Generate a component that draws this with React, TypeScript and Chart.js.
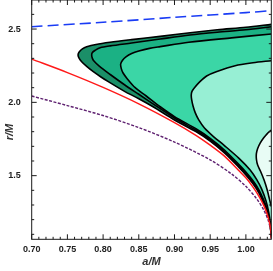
import React, { useEffect, useRef } from 'react';
import { Chart, registerables } from 'chart.js';

Chart.register(...registerables);

// axis ranges and tick labels
const X_MIN = 0.70;
const X_MAX = 1.0356;
const Y_MIN = 1.066;
const Y_MAX = 2.698;
const xTicks = [0.70, 0.75, 0.80, 0.85, 0.90, 0.95, 1.00];
const yTicks = [1.5, 2.0, 2.5];

// blue dashed curve
const blueA = [0.70, 0.80, 0.90, 1.00, 1.0356];
const blueR = [2.516, 2.546, 2.58, 2.612, 2.625];

// red curve
const redA = [0.70, 0.75, 0.80, 0.85, 0.90, 0.93, 0.95, 0.97, 0.99, 1.00, 1.01, 1.018, 1.025, 1.03, 1.0335, 1.0352, 1.0356];
const redR = [2.295, 2.203, 2.102, 1.990, 1.862, 1.775, 1.708, 1.633, 1.535, 1.485, 1.422, 1.362, 1.297, 1.235, 1.171, 1.114, 1.07];

// purple dashed curve
const purpleA = [0.70, 0.75, 0.80, 0.85, 0.90, 0.95, 0.98, 1.00, 1.015, 1.025, 1.031, 1.0345, 1.0356];
const purpleR = [2.043, 1.978, 1.910, 1.828, 1.729, 1.608, 1.511, 1.427, 1.343, 1.266, 1.199, 1.133, 1.07];

// nested regions (outer -> inner), boundary traced from upper right edge, round the tip, to lower right edge
const region1A = [1.0356, 1.00, 0.96, 0.9219, 0.88, 0.84, 0.8097, 0.79, 0.777, 0.771, 0.7665, 0.7649, 0.7665, 0.770, 0.777, 0.7863, 0.797, 0.8073, 0.83, 0.85, 0.87, 0.90, 0.93, 0.95, 0.97, 0.99, 1.00, 1.01, 1.018, 1.025, 1.03, 1.0335, 1.0356];
const region1R = [2.532, 2.512, 2.495, 2.475, 2.45, 2.428, 2.41, 2.395, 2.379, 2.365, 2.343, 2.323, 2.30, 2.277, 2.245, 2.209, 2.173, 2.141, 2.075, 2.025, 1.97, 1.88, 1.80, 1.735, 1.655, 1.558, 1.505, 1.445, 1.385, 1.31, 1.25, 1.185, 1.078];

const region2A = [1.0356, 1.00, 0.96, 0.9217, 0.88, 0.84, 0.81, 0.7958, 0.789, 0.785, 0.784, 0.785, 0.7875, 0.795, 0.81, 0.83, 0.85, 0.87, 0.90, 0.93, 0.95, 0.97, 0.99, 1.00, 1.01, 1.018, 1.025, 1.03, 1.0335, 1.0356];
const region2R = [2.516, 2.495, 2.478, 2.459, 2.432, 2.405, 2.385, 2.372, 2.355, 2.34, 2.323, 2.30, 2.28, 2.245, 2.19, 2.12, 2.055, 1.99, 1.893, 1.81, 1.745, 1.665, 1.567, 1.515, 1.455, 1.395, 1.322, 1.26, 1.195, 1.085];

const region3A = [1.0356, 0.98, 0.92, 0.88, 0.865, 0.85, 0.84, 0.832, 0.827, 0.8246, 0.8255, 0.828, 0.834, 0.845, 0.86, 0.88, 0.90, 0.93, 0.95, 0.97, 0.99, 1.00, 1.01, 1.018, 1.025, 1.03, 1.0335, 1.0356];
const region3R = [2.466, 2.44, 2.41, 2.38, 2.368, 2.35, 2.333, 2.31, 2.285, 2.26, 2.23, 2.20, 2.16, 2.10, 2.045, 1.97, 1.903, 1.82, 1.755, 1.675, 1.577, 1.525, 1.465, 1.405, 1.333, 1.27, 1.205, 1.09];

const region4A = [1.0356, 1.01, 0.985, 0.9585, 0.945, 0.9353, 0.928, 0.9245, 0.9235, 0.924, 0.926, 0.929, 0.934, 0.942, 0.955, 0.97, 0.99, 1.006, 1.015, 1.022, 1.028, 1.032, 1.0345, 1.0356];
const region4R = [2.284, 2.27, 2.25, 2.209, 2.18, 2.14, 2.10, 2.075, 2.05, 2.02, 1.975, 1.93, 1.88, 1.825, 1.765, 1.705, 1.62, 1.539, 1.475, 1.41, 1.33, 1.25, 1.17, 1.10];

const region5A = [1.0356, 1.03, 1.025, 1.02, 1.0165, 1.0147, 1.0148, 1.0165, 1.0205, 1.0255, 1.03, 1.033, 1.0356];
const region5R = [1.81, 1.787, 1.758, 1.722, 1.685, 1.65, 1.61, 1.572, 1.53, 1.47, 1.40, 1.34, 1.29];

const regionColors = ['#1b8f68', '#1bb184', '#3bd6a6', '#97efd4', '#e8fcf5'];

const pts = (a: number[], r: number[]) => a.map((v, i) => ({ x: v, y: r[i] }));

const FONT = 'Liberation Sans, Arial, sans-serif';

const frameTicks = {
  id: 'frameTicks',
  afterDatasetsDraw(chart: any) {
    const { ctx, chartArea, scales } = chart;
    const { left, right, top, bottom } = chartArea;
    const xs = scales.x;
    const ys = scales.y;
    ctx.save();
    ctx.strokeStyle = '#1a1a1a';
    ctx.lineWidth = 1;
    ctx.strokeRect(left, top, right - left, bottom - top);
    ctx.beginPath();
    for (let k = 70; k <= 103; k++) {
      const px = xs.getPixelForValue(k / 100);
      const len = k % 5 === 0 ? 5 : 2.5;
      ctx.moveTo(px, bottom); ctx.lineTo(px, bottom - len);
      ctx.moveTo(px, top); ctx.lineTo(px, top + len);
    }
    for (let k = 11; k <= 26; k++) {
      const py = ys.getPixelForValue(k / 10);
      const len = k % 5 === 0 ? 5 : 2.5;
      ctx.moveTo(left, py); ctx.lineTo(left + len, py);
      ctx.moveTo(right, py); ctx.lineTo(right - len, py);
    }
    ctx.stroke();
    ctx.restore();
  },
  afterDraw(chart: any) {
    const { ctx } = chart;
    ctx.save();
    ctx.translate(10, 132);
    ctx.rotate(-Math.PI / 2);
    ctx.fillStyle = '#333';
    ctx.font = 'italic bold 11px ' + FONT;
    ctx.textAlign = 'center';
    ctx.textBaseline = 'middle';
    ctx.fillText('r/M', 0, 0);
    ctx.restore();
  },
};

export default function App() {
  const ref = useRef<HTMLCanvasElement>(null);
  useEffect(() => {
    document.body.style.margin = '0';
    const regions = [
      pts(region1A, region1R),
      pts(region2A, region2R),
      pts(region3A, region3R),
      pts(region4A, region4R),
      pts(region5A, region5R),
    ];
    const regionSets = regions.map((d, i) => ({
      data: d,
      backgroundColor: regionColors[i],
      borderColor: '#000',
      borderWidth: 1.6,
      fill: 'shape',
      tension: 0.3,
      pointRadius: 0,
      order: 10 - i,
    }));
    const chart = new Chart(ref.current!, {
      type: 'line',
      data: {
        datasets: [
          ...regionSets,
          { data: pts(purpleA, purpleR), borderColor: '#5e2070', borderWidth: 1.4, borderDash: [3, 1.5], fill: false, tension: 0.3, pointRadius: 0, order: 2 },
          { data: pts(redA, redR), borderColor: '#ff1a1a', borderWidth: 1.5, fill: false, tension: 0.3, pointRadius: 0, order: 1 },
          { data: pts(blueA, blueR), borderColor: '#1a3cf5', borderWidth: 1.6, borderDash: [11, 5], fill: false, tension: 0.3, pointRadius: 0, order: 0 },
        ] as any,
      },
      options: {
        animation: false,
        responsive: false,
        devicePixelRatio: 1,
        layout: { padding: { left: 0, right: 1.7, top: 0, bottom: 0 } },
        plugins: { legend: { display: false }, tooltip: { enabled: false } },
        scales: {
          x: {
            type: 'linear',
            min: X_MIN,
            max: X_MAX,
            grid: { display: false },
            border: { display: false },
            ticks: {
              padding: -3,
              color: '#222',
              font: { family: FONT, size: 9, weight: 'bold' },
              maxRotation: 0,
              autoSkip: false,
              callback: (v: any) => Number(v).toFixed(2),
            },
            afterBuildTicks: (s: any) => { s.ticks = xTicks.map((v) => ({ value: v })); },
            afterFit: (s: any) => { s.height = 31.7; s.paddingLeft = 0; s.paddingRight = 0; },
            title: {
              display: true,
              text: 'a/M',
              color: '#333',
              font: { family: FONT, size: 11, weight: 'bold', style: 'italic' },
              padding: { top: 0, bottom: 2 },
            },
          },
          y: {
            type: 'linear',
            min: Y_MIN,
            max: Y_MAX,
            grid: { display: false },
            border: { display: false },
            ticks: {
              padding: 3,
              color: '#222',
              font: { family: FONT, size: 9, weight: 'bold' },
              autoSkip: false,
              callback: (v: any) => Number(v).toFixed(1),
            },
            afterBuildTicks: (s: any) => { s.ticks = yTicks.map((v) => ({ value: v })); },
            afterFit: (s: any) => { s.width = 31.7; s.paddingTop = 0; s.paddingBottom = 0; },
          },
        },
      } as any,
      plugins: [frameTicks],
    });
    return () => chart.destroy();
  }, []);
  return (
    <div style={{ width: 273, height: 271 }}>
      <canvas ref={ref} width={273} height={271} style={{ display: 'block' }} />
    </div>
  );
}
